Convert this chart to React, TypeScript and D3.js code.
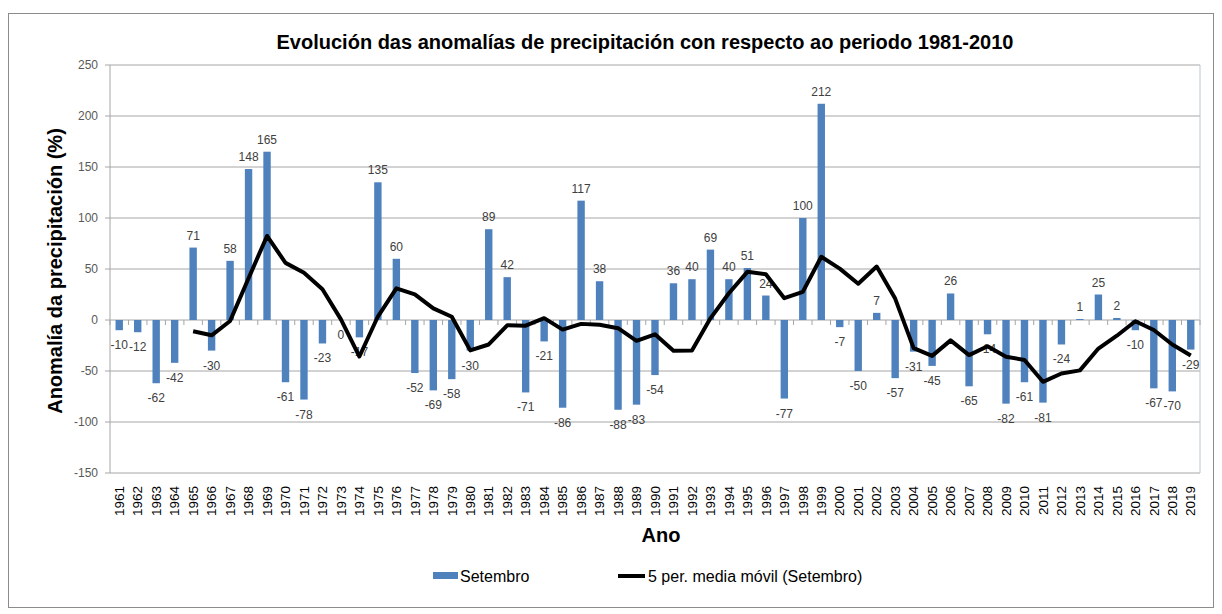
import React from 'react';
import * as d3 from 'd3';

const years: string[] = d3.range(1961, 2020).map(String);

const setembro: number[] = [
  -10, -12, -62, -42, 71, -30, 58, 148, 165, -61,
  -78, -23, 0, -17, 135, 60, -52, -69, -58, -30,
  89, 42, -71, -21, -86, 117, 38, -88, -83, -54,
  36, 40, 69, 40, 51, 24, -77, 100, 212, -7,
  -50, 7, -57, -31, -45, 26, -65, -14, -82, -61,
  -81, -24, 1, 25, 2, -10, -67, -70, -29,
];

const yTicks: number[] = [250, 200, 150, 100, 50, 0, -50, -100, -150];

const W = 1222;
const H = 614;
const plot = { left: 110, right: 1200, top: 65, bottom: 473 };

export default function App() {
  const x = d3.scaleBand<string>().domain(years).range([plot.left, plot.right]).padding(0);
  const y = d3.scaleLinear().domain([-150, 250]).range([plot.bottom, plot.top]);
  const barW = x.bandwidth() * 0.4;
  const cx = (yr: string) => (x(yr) as number) + x.bandwidth() / 2;

  // 5-period trailing moving average, as Excel's trendline does
  const avg = setembro.map((_, i) => (i < 4 ? null : d3.mean(setembro.slice(i - 4, i + 1)) as number));
  const line = d3
    .line<number | null>()
    .defined((d) => d !== null)
    .x((_, i) => cx(years[i]))
    .y((d) => y(d as number));

  const font = 'Arial, "Liberation Sans", sans-serif';

  return (
    <svg
      width={W}
      height={H}
      style={{ position: 'absolute', left: 0, top: 0, background: '#fff' }}
      fontFamily={font}
    >
      <rect x={8.5} y={13.5} width={1205} height={594} fill="#fff" stroke="#8c8c8c" />

      <text x={645} y={49} textAnchor="middle" fontSize={20} fontWeight="bold" fill="#000">
        Evolución das anomalías de precipitación con respecto ao periodo 1981-2010
      </text>

      {/* gridlines */}
      {yTicks.map((t) => (
        <g key={t}>
          <line x1={plot.left} x2={plot.right} y1={y(t)} y2={y(t)} stroke="#a6a6a6" strokeWidth={1} />
          <line x1={plot.left - 5} x2={plot.left} y1={y(t)} y2={y(t)} stroke="#a6a6a6" />
          <text x={plot.left - 12} y={y(t)} dy="0.35em" textAnchor="end" fontSize={12} fill="#595959">
            {t}
          </text>
        </g>
      ))}
      <line x1={plot.left} x2={plot.left} y1={plot.top} y2={plot.bottom} stroke="#a6a6a6" />
      <line x1={plot.right} x2={plot.right} y1={plot.top} y2={plot.bottom} stroke="#b9c6d3" />

      {/* bars */}
      {setembro.map((v, i) => (
        <rect
          key={years[i]}
          x={cx(years[i]) - barW / 2}
          y={Math.min(y(v), y(0))}
          width={barW}
          height={Math.abs(y(v) - y(0))}
          fill="#4f81bd"
        />
      ))}

      {/* category ticks on the zero axis */}
      {d3.range(years.length + 1).map((i) => {
        const px = plot.left + i * x.step();
        return <line key={i} x1={px} x2={px} y1={y(0)} y2={y(0) + 5} stroke="#a6a6a6" />;
      })}

      {/* data labels */}
      {setembro.map((v, i) => (
        <text
          key={'l' + years[i]}
          x={cx(years[i])}
          y={v > 0 ? y(v) - 8 : y(v) + 19}
          textAnchor="middle"
          fontSize={12}
          fill="#404040"
        >
          {v}
        </text>
      ))}

      <path d={line(avg) || ''} fill="none" stroke="#000" strokeWidth={4} strokeLinejoin="round" />

      {/* year labels */}
      {years.map((yr) => (
        <text
          key={'x' + yr}
          transform={`translate(${cx(yr)},${plot.bottom + 13}) rotate(-90)`}
          dy="0.35em"
          textAnchor="end"
          fontSize={13.5}
          fill="#000"
        >
          {yr}
        </text>
      ))}

      <text x={661} y={542} textAnchor="middle" fontSize={20} fontWeight="bold" fill="#000">
        Ano
      </text>
      <text
        transform={`translate(62,271) rotate(-90)`}
        textAnchor="middle"
        fontSize={20}
        fontWeight="bold"
        fill="#000"
      >
        Anomalía da precipitación (%)
      </text>

      {/* legend */}
      <rect x={433} y={572} width={25} height={7} fill="#4f81bd" />
      <text x={460} y={576} dy="0.35em" fontSize={16} fill="#000">
        Setembro
      </text>
      <line x1={618} x2={645} y1={576} y2={576} stroke="#000" strokeWidth={4} />
      <text x={648} y={576} dy="0.35em" fontSize={16} fill="#000">
        5 per. media móvil (Setembro)
      </text>
    </svg>
  );
}
